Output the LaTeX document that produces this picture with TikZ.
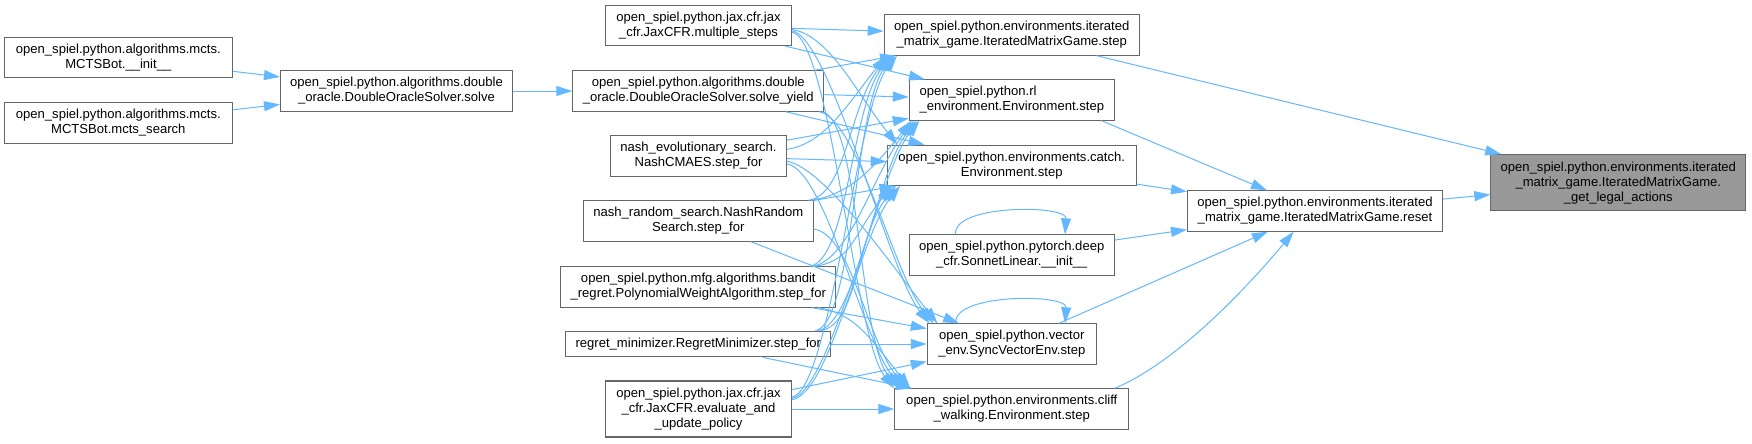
\documentclass[tikz,border=0pt]{standalone}
\usepackage{fontspec}
\setmainfont{Liberation Sans}
\usetikzlibrary{arrows.meta}
\definecolor{edgeblue}{HTML}{63B8FF}
\definecolor{nodeline}{HTML}{666666}
\definecolor{focusgray}{HTML}{999999}

\begin{document}
\begin{tikzpicture}[
    x=0.75pt, y=0.75pt,
    fnode/.style={draw=nodeline, line width=0.8pt, align=center, font=\fontsize{9.8}{11.25}\selectfont, inner xsep=3pt, inner ysep=2pt, minimum height=30.2pt},
    onenode/.style={fnode, minimum height=19.3pt},
    threenode/.style={fnode, minimum height=42pt},
    focusnode/.style={threenode, fill=focusgray},
    arrow/.style={-{Triangle[length=12pt,width=7.5pt]}, draw=edgeblue, line width=0.75pt},
    curvedown/.style={to path={.. controls +(38,-6) and +(-40,50) .. (\tikztotarget)}},
    curveup/.style={to path={.. controls +(38,6) and +(-40,-50) .. (\tikztotarget)}},
]
    \fill[white] (0,0) rectangle (1752,-443);

    % Callers of the solver
    \node[fnode, minimum width=171pt] (mctsinit) at (118.3,-57.5) {open\_spiel.python.algorithms.mcts.\\MCTSBot.\_\_init\_\_};
    \node[fnode, minimum width=171pt] (mctssearch) at (118.3,-123) {open\_spiel.python.algorithms.mcts.\\MCTSBot.mcts\_search};
    \node[fnode, minimum width=174pt] (solve) at (396.5,-91) {open\_spiel.python.algorithms.double\\\_oracle.DoubleOracleSolver.solve};

    % Step loops
    \node[fnode, minimum width=139.5pt] (multisteps) at (698.5,-25.5) {open\_spiel.python.jax.cfr.jax\\\_cfr.JaxCFR.multiple\_steps};
    \node[fnode, minimum width=188.25pt] (solveyield) at (698.3,-91) {open\_spiel.python.algorithms.double\\\_oracle.DoubleOracleSolver.solve\_yield};
    \node[fnode, minimum width=132pt] (nashevo) at (698.5,-156) {nash\_evolutionary\_search.\\NashCMAES.step\_for};
    \node[fnode, minimum width=172.5pt] (nashrand) at (698.3,-221) {nash\_random\_search.NashRandom\\Search.step\_for};
    \node[fnode, minimum width=206.25pt] (bandit) at (698.3,-287) {open\_spiel.python.mfg.algorithms.bandit\\\_regret.PolynomialWeightAlgorithm.step\_for};
    \node[onenode, minimum width=198.75pt] (regret) at (698.3,-344) {regret\_minimizer.RegretMinimizer.step\_for};
    \node[threenode, minimum width=139.5pt] (evalupd) at (698.5,-409) {open\_spiel.python.jax.cfr.jax\\\_cfr.JaxCFR.evaluate\_and\\\_update\_policy};

    % Environment steps
    \node[fnode, minimum width=191.25pt] (imgstep) at (1011.7,-35) {open\_spiel.python.environments.iterated\\\_matrix\_game.IteratedMatrixGame.step};
    \node[fnode, minimum width=153.75pt, align=left] (rlstep) at (1011.8,-100) {open\_spiel.python.rl\\\_environment.Environment.step};
    \node[fnode, minimum width=186.75pt] (catchstep) at (1011.7,-165.3) {open\_spiel.python.environments.catch.\\Environment.step};
    \node[fnode, minimum width=153.75pt] (sonnet) at (1011.7,-255) {open\_spiel.python.pytorch.deep\\\_cfr.SonnetLinear.\_\_init\_\_};
    \node[fnode, minimum width=126.75pt] (syncstep) at (1011.8,-344) {open\_spiel.python.vector\\\_env.SyncVectorEnv.step};
    \node[fnode, minimum width=175.5pt] (cliffstep) at (1011.8,-409) {open\_spiel.python.environments.cliff\\\_walking.Environment.step};

    % Reset and the function itself
    \node[fnode, minimum width=191.25pt] (reset) at (1315,-211) {open\_spiel.python.environments.iterated\\\_matrix\_game.IteratedMatrixGame.reset};
    \node[focusnode, minimum width=191.25pt] (legal) at (1618.3,-182.7) {open\_spiel.python.environments.iterated\\\_matrix\_game.IteratedMatrixGame.\\\_get\_legal\_actions};

    % Solver chain
    \draw[arrow] (mctsinit) -- (solve);
    \draw[arrow] (mctssearch) -- (solve);
    \draw[arrow] (solve) -- (solveyield);

    % multiple_steps
    \draw[arrow] (multisteps) -- (imgstep);
    \draw[arrow] (multisteps) -- (rlstep);
    \draw[arrow] ([yshift=-3pt]multisteps.east) to[curvedown] ([xshift=8pt]catchstep.north west);
    \draw[arrow] ([yshift=-4pt]multisteps.east) to[curvedown] ([xshift=2pt]syncstep.north west);
    \draw[arrow] ([yshift=-5pt]multisteps.east) to[curvedown] ([xshift=0pt]cliffstep.north west);

    % solve_yield
    \draw[arrow] (solveyield) -- (imgstep);
    \draw[arrow] (solveyield) -- (rlstep);
    \draw[arrow] (solveyield) -- (catchstep);
    \draw[arrow] ([xshift=-4pt]solveyield.south east) to[curvedown] ([xshift=5pt]syncstep.north west);
    \draw[arrow] ([xshift=-2pt]solveyield.south east) to[curvedown] ([xshift=3pt]cliffstep.north west);

    % NashCMAES
    \draw[arrow] ([yshift=5pt]nashevo.east) to[curveup] ([xshift=2pt]imgstep.south west);
    \draw[arrow] (nashevo) -- (rlstep);
    \draw[arrow] (nashevo) -- (catchstep);
    \draw[arrow] ([yshift=-4pt]nashevo.east) to[curvedown] ([xshift=8pt]syncstep.north west);
    \draw[arrow] ([yshift=-6pt]nashevo.east) to[curvedown] ([xshift=6pt]cliffstep.north west);

    % NashRandomSearch
    \draw[arrow] ([xshift=-4pt]nashrand.north east) to[curveup] ([xshift=4pt]imgstep.south west);
    \draw[arrow] ([xshift=-2pt]nashrand.north east) to[curveup] ([xshift=2pt]rlstep.south west);
    \draw[arrow] (nashrand) -- (catchstep);
    \draw[arrow] (nashrand) -- (syncstep);
    \draw[arrow] ([yshift=-6pt]nashrand.east) to[curvedown] ([xshift=9pt]cliffstep.north west);

    % PolynomialWeightAlgorithm
    \draw[arrow] ([xshift=-20pt]bandit.north east) to[curveup] ([xshift=6pt]imgstep.south west);
    \draw[arrow] ([xshift=-18pt]bandit.north east) to[curveup] ([xshift=4pt]rlstep.south west);
    \draw[arrow] ([xshift=-16pt]bandit.north east) to[curveup] ([xshift=4pt]catchstep.south west);
    \draw[arrow] (bandit) -- (syncstep);
    \draw[arrow] ([xshift=-14pt]bandit.south east) to[curvedown] ([xshift=12pt]cliffstep.north west);

    % RegretMinimizer
    \draw[arrow] ([xshift=-12pt]regret.north east) to[curveup] ([xshift=8pt]imgstep.south west);
    \draw[arrow] ([xshift=-10pt]regret.north east) to[curveup] ([xshift=6pt]rlstep.south west);
    \draw[arrow] ([xshift=-8pt]regret.north east) to[curveup] ([xshift=7pt]catchstep.south west);
    \draw[arrow] (regret) -- (syncstep);
    \draw[arrow] (regret) -- (cliffstep);

    % evaluate_and_update_policy
    \draw[arrow] ([yshift=9pt]evalupd.east) to[curveup] ([xshift=10pt]imgstep.south west);
    \draw[arrow] ([yshift=8pt]evalupd.east) to[curveup] ([xshift=8pt]rlstep.south west);
    \draw[arrow] ([yshift=7pt]evalupd.east) to[curveup] ([xshift=10pt]catchstep.south west);
    \draw[arrow] (evalupd) -- (syncstep);
    \draw[arrow] (evalupd) -- (cliffstep);

    % Self calls
    \draw[arrow] ([xshift=-42pt]sonnet.north) .. controls +(-4,30) and +(2,30) .. ([xshift=40pt]sonnet.north);
    \draw[arrow] ([xshift=-42pt]syncstep.north) .. controls +(-4,30) and +(2,30) .. ([xshift=40pt]syncstep.north);

    % Into reset
    \draw[arrow] ([xshift=-10pt]rlstep.south east) -- ([xshift=-36pt]reset.north);
    \draw[arrow] (catchstep) -- (reset);
    \draw[arrow] (sonnet) -- (reset);
    \draw[arrow] (syncstep) -- (reset);
    \draw[arrow] ([xshift=-11pt]cliffstep.north east) .. controls +(60,25) and +(-50,-60) .. ([xshift=-16pt]reset.south);

    % Into _get_legal_actions
    \draw[arrow] (imgstep) -- (legal);
    \draw[arrow] (reset) -- (legal);
\end{tikzpicture}
\end{document}
